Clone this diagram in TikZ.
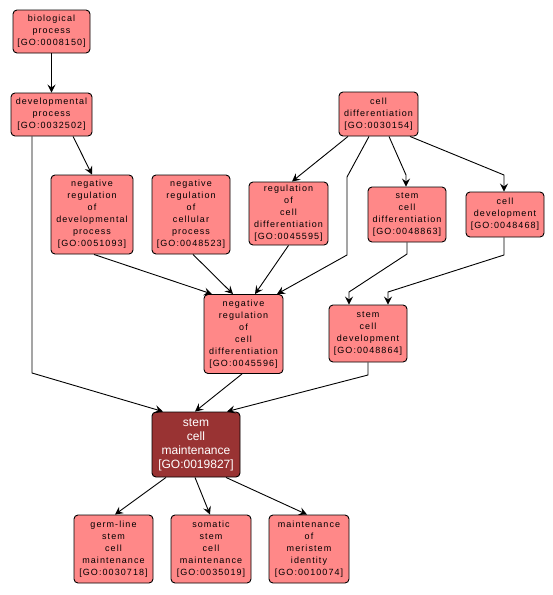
\documentclass[tikz,border=0pt]{standalone}
\usepackage{fontspec}
\setmainfont{Liberation Sans}
\newfontfamily\gofont[LetterSpace=12]{Liberation Sans}
\usetikzlibrary{arrows.meta}
\definecolor{golight}{RGB}{255,136,136}
\definecolor{godark}{RGB}{153,51,51}
\newcommand\goid[1]{\relax[GO:#1]}
\begin{document}
\begin{tikzpicture}[x=1pt,y=-1pt,
  term/.style={draw=black, line width=0.9pt, fill=golight, rounded corners=4pt,
    align=center, inner sep=0pt, font=\gofont\fontsize{9}{12}\selectfont},
  mainterm/.style={term, fill=godark, text=white, font=\fontsize{12}{14}\selectfont},
  edge/.style={draw=black, line width=0.9pt, -{Stealth[length=8pt,width=8pt,inset=3pt]}}]
\useasboundingbox[fill=white] (0,0) rectangle (553,595);

\node[term, minimum width=77pt, minimum height=43pt] (bp) at (51.5,31.5) {biological\\process\\\goid{0008150}};
\node[term, minimum width=81pt, minimum height=43pt] (dp) at (51.5,114.5) {developmental\\process\\\goid{0032502}};
\node[term, minimum width=82pt, minimum height=79pt] (nrdp) at (92,214.5) {negative\\regulation\\of\\developmental\\process\\\goid{0051093}};
\node[term, minimum width=78pt, minimum height=79pt] (nrcp) at (191,214.5) {negative\\regulation\\of\\cellular\\process\\\goid{0048523}};
\node[term, minimum width=79pt, minimum height=63pt] (rcd) at (288.5,213.5) {regulation\\of\\cell\\differentiation\\\goid{0045595}};
\node[term, minimum width=79pt, minimum height=44pt] (cd) at (378.5,114) {cell\\differentiation\\\goid{0030154}};
\node[term, minimum width=78pt, minimum height=55pt] (scd) at (407,214.5) {stem\\cell\\differentiation\\\goid{0048863}};
\node[term, minimum width=78pt, minimum height=45pt] (cdev) at (505,214.5) {cell\\development\\\goid{0048468}};
\node[term, minimum width=79pt, minimum height=79pt] (nrcd) at (243.5,334) {negative\\regulation\\of\\cell\\differentiation\\\goid{0045596}};
\node[term, minimum width=78pt, minimum height=57pt] (scdev) at (368,333.5) {stem\\cell\\development\\\goid{0048864}};
\node[mainterm, minimum width=88pt, minimum height=65pt] (scm) at (196,444.5) {stem\\cell\\maintenance\\\goid{0019827}};
\node[term, minimum width=79pt, minimum height=68pt] (gl) at (113.5,549) {germ-line\\stem\\cell\\maintenance\\\goid{0030718}};
\node[term, minimum width=80pt, minimum height=68pt] (som) at (211,549) {somatic\\stem\\cell\\maintenance\\\goid{0035019}};
\node[term, minimum width=80pt, minimum height=68pt] (mer) at (309,549) {maintenance\\of\\meristem\\identity\\\goid{0010074}};

\draw[edge] (bp.south) -- (dp.north);
\draw[edge] ([xshift=21.5pt]dp.south) -- (nrdp.north);
\draw[edge] ([xshift=-19.5pt]dp.south) -- (32,373) -- ([xshift=-33pt]scm.north);
\draw[edge] ([xshift=2pt]nrdp.south) -- ([xshift=-31.5pt]nrcd.north);
\draw[edge] ([xshift=2pt]nrcp.south) -- ([xshift=-10.5pt]nrcd.north);
\draw[edge] (rcd.south) -- ([xshift=11.5pt]nrcd.north);
\draw[edge] ([xshift=-9.5pt]cd.south) -- (347,177) -- (347,255) -- ([xshift=33.5pt]nrcd.north);
\draw[edge] ([xshift=-30.5pt]cd.south) -- ([xshift=3.5pt]rcd.north);
\draw[edge] ([xshift=10.5pt]cd.south) -- (406,175) -- ([xshift=-1pt]scd.north);
\draw[edge] ([xshift=31.5pt]cd.south) -- (504,175) -- ([xshift=-1pt]cdev.north);
\draw[edge] (scd.south) -- (407,254) -- (349,292) -- ([xshift=-19pt]scdev.north);
\draw[edge] ([xshift=-1pt]cdev.south) -- (504,255) -- (388,292) -- ([xshift=20pt]scdev.north);
\draw[edge] ([xshift=-1.5pt]nrcd.south) -- ([xshift=-1pt]scm.north);
\draw[edge] (scdev.south) -- (368,375) -- ([xshift=31pt]scm.north);
\draw[edge] ([xshift=-30pt]scm.south) -- ([xshift=1.5pt]gl.north);
\draw[edge] ([xshift=-1pt]scm.south) -- ([xshift=-1pt]som.north);
\draw[edge] ([xshift=30pt]scm.south) -- ([xshift=-2pt]mer.north);
\end{tikzpicture}
\end{document}
